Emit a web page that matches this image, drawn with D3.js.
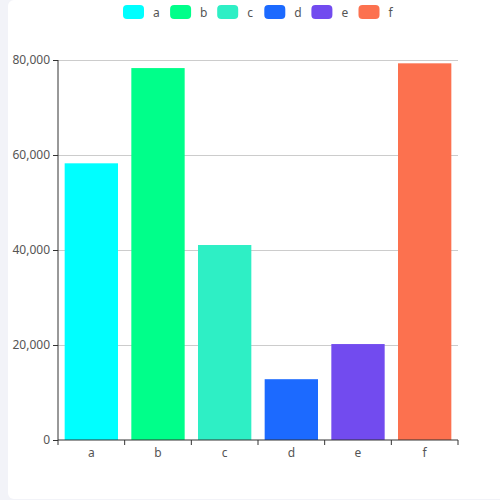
<!DOCTYPE html>
<html>
<head>
<meta charset="utf-8">
<script src="https://cdn.jsdelivr.net/npm/d3@7"></script>
<style>
  html, body { margin: 0; padding: 0; background: #f2f3f8; }
  #card { position: absolute; left: 8px; top: 0; width: 492px; height: 499px; background: #fff; border-radius: 6px 0 0 6px; }
  svg { position: absolute; left: 0; top: 0; }
  text { font-family: "Noto Sans", sans-serif; }
</style>
</head>
<body>
<div id="card"></div>
<svg id="chart" width="500" height="500"></svg>
<script>
const categories = ["a", "b", "c", "d", "e", "f"];
const values = [58250, 78300, 41050, 12800, 20200, 79300];
const colors = ["#00ffff", "#00ff8a", "#2eefc5", "#1c6aff", "#724bef", "#fc714f"];
const yTicks = [0, 20000, 40000, 60000, 80000];

(function () {
const svg = d3.select("#chart");
const pLeft = 58, pRight = 458, pTop = 60, pBottom = 440;
const FONT = "Noto Sans, sans-serif";

const xb = d3.scaleBand().domain(categories).range([pLeft, pRight]);
const y = d3.scaleLinear().domain([0, 80000]).range([pBottom, pTop]);

// grid lines
svg.append("g").selectAll("line").data(yTicks.filter(d => d > 0)).join("line")
  .attr("x1", pLeft).attr("x2", pRight)
  .attr("y1", d => y(d)).attr("y2", d => y(d))
  .attr("stroke", "#cccccc").attr("stroke-width", 1).attr("shape-rendering", "crispEdges");

// bars
svg.append("g").selectAll("rect").data(categories).join("rect")
  .attr("x", (d) => xb(d) + xb.bandwidth() * 0.1)
  .attr("width", xb.bandwidth() * 0.8)
  .attr("y", (d, i) => y(values[i]))
  .attr("height", (d, i) => pBottom - y(values[i]))
  .attr("fill", (d, i) => colors[i]);

// y axis
const yAxis = d3.axisLeft(y).tickValues(yTicks).tickSize(5).tickPadding(3)
  .tickFormat(d3.format(","));
const gy = svg.append("g").attr("transform", `translate(${pLeft},0)`).call(yAxis);
gy.select(".domain").attr("stroke", "#333").attr("d", `M0,${pBottom}V${pTop}`);
gy.selectAll(".tick line").attr("stroke", "#333");
gy.selectAll(".tick text").attr("fill", "#555").attr("font-size", 12).attr("font-family", FONT);

// x axis
const gx = svg.append("g").attr("transform", `translate(0,${pBottom})`)
  .call(d3.axisBottom(xb).tickSize(0).tickPadding(8));
gx.select(".domain").attr("stroke", "#333").attr("d", `M${pLeft},0H${pRight}`);
gx.selectAll(".tick text").attr("fill", "#555").attr("font-size", 12).attr("font-family", FONT);
// boundary ticks
const bounds = categories.map(c => xb(c)).concat([pRight]);
gx.append("g").selectAll("line").data(bounds).join("line")
  .attr("x1", d => d).attr("x2", d => d).attr("y1", 0).attr("y2", 5)
  .attr("stroke", "#333");

// legend
const leg = svg.append("g");
const itemPitch = 47.1, startX = 123;
const li = leg.selectAll("g").data(categories).join("g")
  .attr("transform", (d, i) => `translate(${startX + i * itemPitch},5)`);
li.append("rect").attr("width", 21).attr("height", 14).attr("rx", 4).attr("ry", 4)
  .attr("fill", (d, i) => colors[i]);
li.append("text").attr("x", 30).attr("y", 11.5).text(d => d)
  .attr("font-size", 12).attr("fill", "#555").attr("font-family", FONT);
})();
</script>
</body>
</html>
